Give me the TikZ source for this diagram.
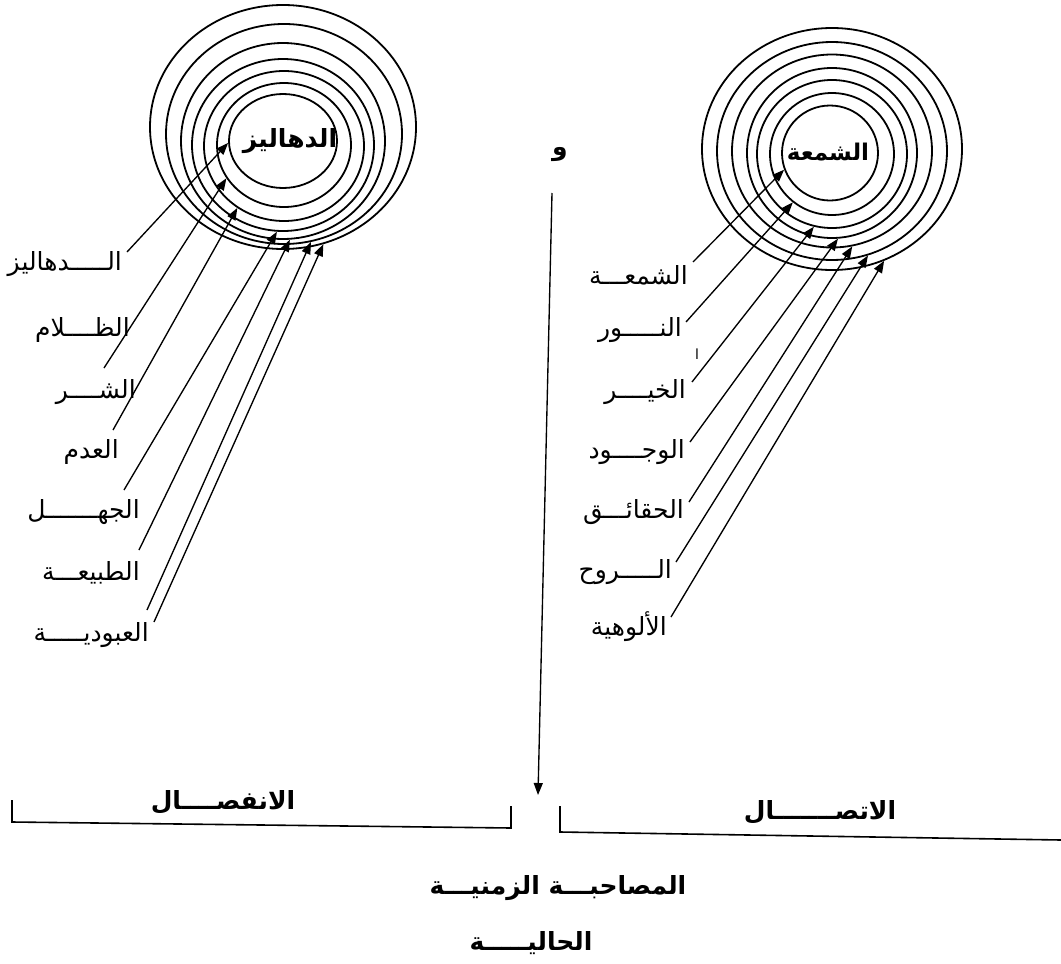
\documentclass[tikz,border=0pt]{standalone}
\usepackage{fontspec}
\TeXXeTstate=1
\newfontfamily\arabicfont[Script=Arabic]{DejaVu Sans}
\usetikzlibrary{shapes.geometric,arrows.meta}
\begin{document}
\begin{tikzpicture}[x=1pt,y=-1pt,
  ring/.style={draw, ellipse, inner sep=0pt, line width=1.8pt},
  lab/.style={font=\arabicfont\fontsize{25}{28}\selectfont, inner sep=1pt},
  clab/.style={font=\arabicfont\bfseries\fontsize{25}{28}\selectfont, inner sep=0pt},
  blab/.style={font=\arabicfont\bfseries\fontsize{25}{28}\selectfont, inner sep=1pt},
  ray/.style={line width=1.35pt, -{Triangle[length=12pt,width=9pt]}},
  bar/.style={line width=1.6pt},
]
\fill[white] (0,0) rectangle (1061,964);
\useasboundingbox (0,0) rectangle (1061,964);

% ---------- left rings ----------
\node[ring, minimum width=108pt, minimum height=94pt]  (a1) at (283,141) {};
\node[ring, minimum width=134pt, minimum height=124pt] (a2) at (284,145) {};
\node[ring, minimum width=160pt, minimum height=150pt] (a3) at (284,146) {};
\node[ring, minimum width=182pt, minimum height=172pt] (a4) at (283,145) {};
\node[ring, minimum width=204pt, minimum height=196pt] (a5) at (283,141) {};
\node[ring, minimum width=236pt, minimum height=220pt] (a6) at (284,134) {};
\node[ring, minimum width=266pt, minimum height=244pt] (a7) at (283,127) {};
\node[clab] (ac) at (290,141) {\beginR الدهاليز\endR};

% ---------- right rings ----------
\node[ring, minimum width=96pt,  minimum height=95pt]  (b1) at (830,153) {};
\node[ring, minimum width=124pt, minimum height=122pt] (b2) at (832,154) {};
\node[ring, minimum width=150pt, minimum height=148pt] (b3) at (832,154) {};
\node[ring, minimum width=170pt, minimum height=170pt] (b4) at (832,153) {};
\node[ring, minimum width=200pt, minimum height=193pt] (b5) at (832,151) {};
\node[ring, minimum width=230pt, minimum height=218pt] (b6) at (832,151) {};
\node[ring, minimum width=260pt, minimum height=242pt] (b7) at (832,149) {};
\node[clab, font=\arabicfont\bfseries\fontsize{23}{26}\selectfont] (bc) at (828,152) {\beginR الشمعة\endR};

% ---------- left labels ----------
\node[lab, anchor=east] (l1) at (123,264) {\beginR الـــــدهاليز\endR};
\node[lab, anchor=east] (l2) at (131,330) {\beginR الظــــلام\endR};
\node[lab, anchor=east] (l3) at (137,392) {\beginR الشــــر\endR};
\node[lab, anchor=east] (l4) at (120,452) {\beginR العدم\endR};
\node[lab, anchor=east] (l5) at (141,512) {\beginR الجهـــــــل\endR};
\node[lab, anchor=east] (l6) at (141,573) {\beginR الطبيعـــة\endR};
\node[lab, anchor=east] (l7) at (150,635) {\beginR العبوديـــــة\endR};

% ---------- right labels ----------
\node[lab, anchor=east] (r1) at (689,275) {\beginR الشمعـــة\endR};
\node[lab, anchor=east] (r2) at (683,330) {\beginR النـــــور\endR};
\node[lab, anchor=east] (r3) at (687,392) {\beginR الخيــــر\endR};
\node[lab, anchor=east] (r4) at (686,452) {\beginR الوجــــود\endR};
\node[lab, anchor=east] (r5) at (685,512) {\beginR الحقائـــق\endR};
\node[lab, anchor=east] (r6) at (673,572) {\beginR الـــــروح\endR};
\node[lab, anchor=east] (r7) at (668,627) {\beginR الألوهية\endR};
\node[font=\arabicfont\fontsize{14}{16}\selectfont, inner sep=0pt] (stray) at (697,354) {\beginR ا\endR};

% ---------- ray start points ----------
\coordinate (s1) at (127,252);
\coordinate (s2) at (104,368);
\coordinate (s3) at (113,430);
\coordinate (s4) at (124,490);
\coordinate (s5) at (139,550);
\coordinate (s6) at (147,610);
\coordinate (s7) at (154,622);

\coordinate (t1) at (693,262);
\coordinate (t2) at (686,322);
\coordinate (t3) at (692,382);
\coordinate (t4) at (690,442);
\coordinate (t5) at (689,502);
\coordinate (t6) at (676,562);
\coordinate (t7) at (671,617);

% ---------- left rays ----------
\draw[ray] (s1) -- (a1.182);
\draw[ray] (s2) -- (a2.210);
\draw[ray] (s3) -- (a3.233);
\draw[ray] (s4) -- (a4.266);
\draw[ray] (s5) -- (a5.274);
\draw[ray] (s6) -- (a6.284);
\draw[ray] (s7) -- (a7.289);

% ---------- right rays ----------
\draw[ray] (t1) -- (b1.200);
\draw[ray] (t2) -- (b2.231);
\draw[ray] (t3) -- (b3.256);
\draw[ray] (t4) -- (b4.274);
\draw[ray] (t5) -- (b5.282);
\draw[ray] (t6) -- (b6.289);
\draw[ray] (t7) -- (b7.295);

% ---------- centre ----------
\node[clab] (waw) at (560,155) {\beginR و\endR};
\coordinate (vtop) at (552,193);
\coordinate (vbot) at (538,795);
\draw[ray] (vtop) -- (vbot);

% ---------- brackets ----------
\coordinate (p1) at (12,800);
\coordinate (p2) at (12,822);
\coordinate (p3) at (511,828);
\coordinate (p4) at (511,806);
\draw[bar] (p1) -- (p2) -- (p3) -- (p4);
\coordinate (q1) at (560,806);
\coordinate (q2) at (560,832);
\coordinate (q3) at (1061,840);
\draw[bar] (q1) -- (q2) -- (q3);
\node[blab] (sep) at (223,802) {\beginR الانفصــــال\endR};
\node[blab] (con) at (820,812) {\beginR الاتصـــــــال\endR};
\node[blab] (acc) at (558,888) {\beginR المصاحبـــة الزمنيـــة\endR};
\node[blab] (cur) at (531,943) {\beginR الحاليـــــة\endR};
\end{tikzpicture}
\end{document}
